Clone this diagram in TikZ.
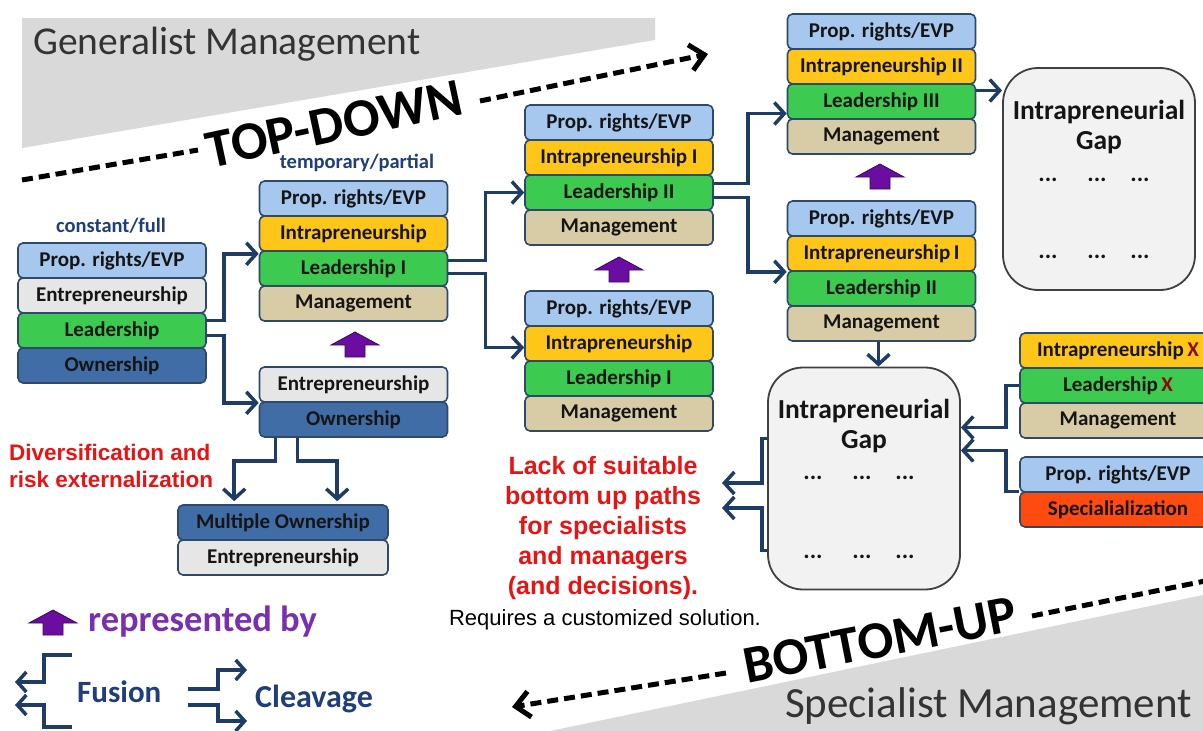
\documentclass[tikz,border=0pt]{standalone}
\usepackage{fontspec}
\setmainfont{Carlito}
\newfontfamily\arialf{Liberation Sans}
\usetikzlibrary{arrows.meta,calc}
\definecolor{bxline}{HTML}{2E4A6B}
\definecolor{connc}{HTML}{1F3D64}
\definecolor{cprop}{HTML}{A6C7EE}
\definecolor{centr}{HTML}{E6E6E6}
\definecolor{clead}{HTML}{3CCB50}
\definecolor{cown}{HTML}{416DA6}
\definecolor{cintra}{HTML}{FFC61A}
\definecolor{cmgmt}{HTML}{D8CCA6}
\definecolor{cspec}{HTML}{FF4A10}
\definecolor{txtc}{HTML}{151515}
\definecolor{xred}{HTML}{8B0A0A}
\definecolor{gapfill}{HTML}{F2F2F2}
\definecolor{gapline}{HTML}{404040}
\definecolor{navy}{HTML}{1F3E7A}
\definecolor{purpf}{HTML}{6A0DA0}
\definecolor{purpd}{HTML}{3D0A5C}
\definecolor{purpt}{HTML}{7A2FB0}
\definecolor{redt}{HTML}{E81414}
\definecolor{greyt}{HTML}{D9D9D9}
\definecolor{darkt}{HTML}{333333}
\begin{document}
\begin{tikzpicture}[x=1pt,y=-1pt,
 bx/.style={draw=bxline, line width=1.6pt, rounded corners=5pt, minimum height=35pt, inner sep=0pt, text=txtc, font=\fontsize{21}{21}\selectfont\bfseries},
 wA/.style={bx, minimum width=188pt},
 wD/.style={bx, minimum width=210pt},
 wI/.style={bx, minimum width=196pt},
 conn/.style={draw=connc, line width=3.5pt, -{Straight Barb[length=10pt,width=22pt]}},
 legl/.style={draw=connc, line width=3.5pt, -{Straight Barb[length=9pt,width=20pt]}},
 gapbox/.style={draw=gapline, fill=gapfill, line width=1.8pt, rounded corners=35pt, minimum width=192pt, minimum height=222pt, inner sep=0pt},
 gaptxt/.style={align=center, text=txtc, font=\fontsize{27.5}{30}\selectfont\bfseries},
 dots/.style={text=txtc, font=\fontsize{24}{24}\selectfont\bfseries, inner sep=0pt},
 lbl/.style={text=navy, font=\fontsize{20.5}{20.5}\selectfont\bfseries},
 dsh/.style={draw=black, line width=5pt, dash pattern=on 11pt off 6pt},
 bigtip/.style={-{Straight Barb[length=14pt,width=26pt]}},
 purparrow/.pic={\filldraw[fill=purpf, draw=purpd, line width=0.8pt] (0,-13) -- (24,0) -- (10,0) -- (10,12) -- (-10,12) -- (-10,0) -- (-24,0) -- cycle;}
]
\useasboundingbox (0,0) rectangle (1203,731);
\clip (0,0) rectangle (1203,731);
\fill[white] (0,0) rectangle (1203,731);

% grey wedges
\fill[greyt] (22,18) -- (655,18) -- (655,40) -- (22,148) -- cycle;
\fill[greyt] (550,731) -- (1203,595) -- (1203,731) -- cycle;
\node[text=darkt, font=\fontsize{39.5}{40}\selectfont, anchor=west, inner sep=0pt] (gm) at (33,44) {Generalist Management};
\node[text=darkt, font=\fontsize{43}{44}\selectfont, anchor=east, inner sep=0pt] (sm) at (1192,706) {Specialist Management};

% TOP-DOWN / BOTTOM-UP
\node[rotate=12, font=\fontsize{54}{54}\selectfont\bfseries, inner sep=0pt] (td) at (334,124) {TOP-DOWN};
\draw[dsh] (22,180) -- (198,150);
\draw[dsh, bigtip] (480,101) -- (708,54);
\node[rotate=11, font=\fontsize{53}{53}\selectfont\bfseries, inner sep=0pt] (bu) at (880,640) {BOTTOM-UP};
\draw[dsh] (1032,616) -- (1210,580);
\draw[dsh, bigtip] (726,673) -- (512,707);

% labels
\node[lbl] (l1) at (111,226) {constant/full};
\node[lbl] (l2) at (357,163) {temporary/partial};

% stack A
\node[wA, fill=cprop] (aP) at (112,260.5) {Prop. rights/EVP};
\node[wA, fill=centr] (aE) at (112,295.5) {Entrepreneurship};
\node[wA, fill=clead] (aL) at (112,330.5) {Leadership};
\node[wA, fill=cown]  (aO) at (112,365.5) {Ownership};
% stack B
\node[wA, fill=cprop]  (bP) at (353.5,198.5) {Prop. rights/EVP};
\node[wA, fill=cintra] (bI) at (353.5,233.5) {Intrapreneurship};
\node[wA, fill=clead]  (bL) at (353.5,268.5) {Leadership I};
\node[wA, fill=cmgmt]  (bM) at (353.5,303.5) {Management};
% stack C
\node[wA, fill=centr] (cE) at (353.5,384.5) {Entrepreneurship};
\node[wA, fill=cown]  (cO) at (353.5,419.5) {Ownership};
% stack D
\node[wD, fill=cown]  (dM) at (283,522.5) {Multiple Ownership};
\node[wD, fill=centr] (dE) at (283,557.5) {Entrepreneurship};
% stack E
\node[wA, fill=cprop]  (eP) at (619,122.5) {Prop. rights/EVP};
\node[wA, fill=cintra] (eI) at (619,157.5) {Intrapreneurship I};
\node[wA, fill=clead]  (eL) at (619,192.5) {Leadership II};
\node[wA, fill=cmgmt]  (eM) at (619,227.5) {Management};
% stack F
\node[wA, fill=cprop]  (fP) at (619,308.5) {Prop. rights/EVP};
\node[wA, fill=cintra] (fI) at (619,343.5) {Intrapreneurship};
\node[wA, fill=clead]  (fL) at (619,378.5) {Leadership I};
\node[wA, fill=cmgmt]  (fM) at (619,413.5) {Management};
% stack G
\node[wA, fill=cprop]  (gP) at (881.5,31.5) {Prop. rights/EVP};
\node[wA, fill=cintra] (gI) at (881.5,66.5) {Intrapreneurship II};
\node[wA, fill=clead]  (gL) at (881.5,101.5) {Leadership III};
\node[wA, fill=cmgmt]  (gM) at (881.5,136.5) {Management};
% stack H
\node[wA, fill=cprop]  (hP) at (881.5,218.5) {Prop. rights/EVP};
\node[wA, fill=cintra] (hI) at (881.5,253.5) {Intrapreneurship\,I};
\node[wA, fill=clead]  (hL) at (881.5,288.5) {Leadership II};
\node[wA, fill=cmgmt]  (hM) at (881.5,323.5) {Management};
% stack I / J
\node[wI, fill=cintra] (iI) at (1118,350.5) {Intrapreneurship\,\textcolor{xred}{X}};
\node[wI, fill=clead]  (iL) at (1118,385.5) {Leadership\,\textcolor{xred}{X}};
\node[wI, fill=cmgmt]  (iM) at (1118,420.5) {Management};
\node[wI, fill=cprop]  (jP) at (1118,474.5) {Prop. rights/EVP};
\node[wI, fill=cspec]  (jS) at (1118,509.5) {Specialialization};

% gap boxes
\node[gapbox] (gap1) at (1099,179) {};
\node[gaptxt] (g1t) at (1099,127) {Intrapreneurial\\Gap};
\node[dots] (g1a) at (1048,180) {...};
\node[dots] (g1b) at (1097,180) {...};
\node[dots] (g1c) at (1140,180) {...};
\node[dots] (g1d) at (1048,257) {...};
\node[dots] (g1e) at (1097,257) {...};
\node[dots] (g1f) at (1140,257) {...};
\node[gapbox] (gap2) at (864,478.5) {};
\node[gaptxt] (g2t) at (864,426) {Intrapreneurial\\Gap};
\node[dots] (g2a) at (813,478) {...};
\node[dots] (g2b) at (862,478) {...};
\node[dots] (g2c) at (905,478) {...};
\node[dots] (g2d) at (813,557) {...};
\node[dots] (g2e) at (862,557) {...};
\node[dots] (g2f) at (905,557) {...};

% purple arrows
\pic at (355,345) {purparrow};
\pic at (619,270) {purparrow};
\pic at (880,177) {purparrow};

% connectors
\draw[conn] ($(aL.east)+(0,-10)$) -- ++(17,0) |- ($(bI.south west)+(0,2)$);
\draw[conn] ($(aL.east)+(0,5)$) -- ++(17,0) |- (cE.south west);
\draw[conn] ($(bL.east)+(0,-8)$) -- ++(37,0) |- (eL.west);
\draw[conn] ($(bL.east)+(0,5)$) -- ++(37,0) |- ($(fI.west)+(0,4)$);
\draw[conn] ($(eL.east)+(0,-9)$) -- ++(34,0) |- ($(gL.west)+(0,12)$);
\draw[conn] ($(eL.east)+(0,5)$) -- ++(34,0) |- (hI.south west);
\coordinate (g1) at ($(gL.east)+(0,-11)$);
\draw[conn] (g1) -- (g1 -| gap1.west);
\coordinate (h1) at ($(hM.south)+(-3,0)$);
\draw[conn] (h1) -- (h1 |- gap2.north);
\draw[conn] (iL.west) -- ++(-13,0) |- ($(gap2.east)+(0,-51)$);
\draw[conn] ($(jP.west)+(0,17)$) -- ++(-13,0) |- ($(gap2.east)+(0,-28)$);
\coordinate (lk1) at (722,483);
\coordinate (lk2) at (722,508);
\draw[conn] ($(gap2.west)+(0,-40)$) -- ++(-5,0) |- (lk1);
\draw[conn] ($(gap2.west)+(0,72)$) -- ++(-5,0) |- (lk2);
\draw[conn] ($(cO.south)+(-78,0)$) -- ++(0,23) -| ($(dM.north west)+(57,-3)$);
\draw[conn] ($(cO.south)+(-56,0)$) -- ++(0,23) -| ($(dM.north west)+(160,-3)$);

% red texts
\node[text=redt, font=\arialf\fontsize{22.5}{27}\selectfont\bfseries, align=left, anchor=west, inner sep=0pt] (div) at (9,466) {Diversification and\\risk externalization};
\node[text=redt, font=\arialf\fontsize{25}{30}\selectfont\bfseries, align=center, inner sep=0pt] (lack) at (603,528) {Lack of suitable\\bottom up paths\\for specialists\\and managers\\(and decisions).};
\node[text=black, font=\arialf\fontsize{22}{22}\selectfont, inner sep=0pt] (req) at (605,620) {Requires a customized solution.};

% legend
\pic at (53,623) {purparrow};
\node[text=purpt, font=\fontsize{36.5}{36.5}\selectfont\bfseries, anchor=west, inner sep=0pt] (rep) at (88,622) {represented by};
\draw[legl] (72,655) -- (44,655) -- (44,682) -- (15,682);
\draw[legl] (72,727) -- (44,727) -- (44,705) -- (15,705);
\node[text=navy, font=\fontsize{31}{31}\selectfont\bfseries, anchor=west, inner sep=0pt] (fus) at (77,692) {Fusion};
\draw[legl] (188,689) -- (218,689) -- (218,670) -- (247,670);
\draw[legl] (188,705) -- (218,705) -- (218,721) -- (247,721);
\node[text=navy, font=\fontsize{32}{32}\selectfont\bfseries, anchor=west, inner sep=0pt] (clv) at (255,699) {Cleavage};
\end{tikzpicture}
\end{document}
